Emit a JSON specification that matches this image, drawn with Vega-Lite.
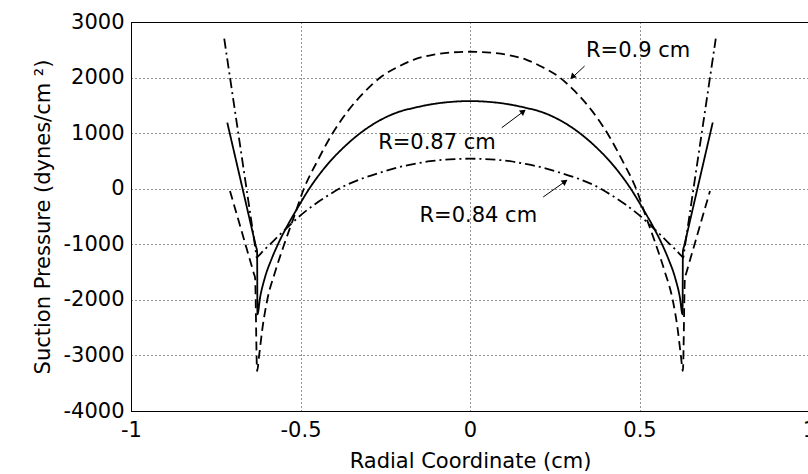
{
  "$schema": "https://vega.github.io/schema/vega-lite/v6.json",
  "width": 678,
  "height": 389,
  "autosize": {"type": "none"},
  "padding": {"left": 131, "top": 22, "right": 0, "bottom": 63},
  "background": "white",
  "config": {
    "font": "DejaVu Sans",
    "view": {"stroke": "black", "strokeWidth": 1},
    "axis": {
      "domainColor": "black",
      "labelColor": "black",
      "titleColor": "black",
      "labelFontSize": 21,
      "titleFontSize": 21,
      "titleFontWeight": "normal",
      "ticks": false,
      "grid": true,
      "gridColor": "black",
      "gridDash": [1, 3],
      "gridOpacity": 0.85,
      "gridWidth": 1,
      "labelOverlap": false,
      "labelBound": false,
      "labelFlush": false
    }
  },
  "datasets": {
    "curves": [
      {"s": "R=0.9 cm", "i": 1, "x": -0.708, "y": -40},
      {"s": "R=0.9 cm", "i": 2, "x": -0.671, "y": -820},
      {"s": "R=0.9 cm", "i": 3, "x": -0.637, "y": -1537},
      {"s": "R=0.9 cm", "i": 4, "x": -0.634, "y": -1600},
      {"s": "R=0.9 cm", "i": 5, "x": -0.628, "y": -3280},
      {"s": "R=0.9 cm", "i": 6, "x": -0.622, "y": -3000},
      {"s": "R=0.9 cm", "i": 7, "x": -0.612, "y": -2500},
      {"s": "R=0.9 cm", "i": 8, "x": -0.598, "y": -2000},
      {"s": "R=0.9 cm", "i": 9, "x": -0.575, "y": -1500},
      {"s": "R=0.9 cm", "i": 10, "x": -0.548, "y": -1000},
      {"s": "R=0.9 cm", "i": 11, "x": -0.52, "y": -520},
      {"s": "R=0.9 cm", "i": 12, "x": -0.49, "y": 0},
      {"s": "R=0.9 cm", "i": 13, "x": -0.45, "y": 500},
      {"s": "R=0.9 cm", "i": 14, "x": -0.41, "y": 950},
      {"s": "R=0.9 cm", "i": 15, "x": -0.36, "y": 1400},
      {"s": "R=0.9 cm", "i": 16, "x": -0.31, "y": 1750},
      {"s": "R=0.9 cm", "i": 17, "x": -0.265, "y": 2000},
      {"s": "R=0.9 cm", "i": 18, "x": -0.21, "y": 2200},
      {"s": "R=0.9 cm", "i": 19, "x": -0.167, "y": 2320},
      {"s": "R=0.9 cm", "i": 20, "x": -0.11, "y": 2410},
      {"s": "R=0.9 cm", "i": 21, "x": -0.06, "y": 2450},
      {"s": "R=0.9 cm", "i": 22, "x": 0, "y": 2465},
      {"s": "R=0.9 cm", "i": 23, "x": 0.06, "y": 2450},
      {"s": "R=0.9 cm", "i": 24, "x": 0.11, "y": 2410},
      {"s": "R=0.9 cm", "i": 25, "x": 0.167, "y": 2320},
      {"s": "R=0.9 cm", "i": 26, "x": 0.21, "y": 2200},
      {"s": "R=0.9 cm", "i": 27, "x": 0.265, "y": 2000},
      {"s": "R=0.9 cm", "i": 28, "x": 0.31, "y": 1750},
      {"s": "R=0.9 cm", "i": 29, "x": 0.36, "y": 1400},
      {"s": "R=0.9 cm", "i": 30, "x": 0.41, "y": 950},
      {"s": "R=0.9 cm", "i": 31, "x": 0.45, "y": 500},
      {"s": "R=0.9 cm", "i": 32, "x": 0.49, "y": 0},
      {"s": "R=0.9 cm", "i": 33, "x": 0.52, "y": -520},
      {"s": "R=0.9 cm", "i": 34, "x": 0.548, "y": -1000},
      {"s": "R=0.9 cm", "i": 35, "x": 0.575, "y": -1500},
      {"s": "R=0.9 cm", "i": 36, "x": 0.598, "y": -2000},
      {"s": "R=0.9 cm", "i": 37, "x": 0.612, "y": -2500},
      {"s": "R=0.9 cm", "i": 38, "x": 0.622, "y": -3000},
      {"s": "R=0.9 cm", "i": 39, "x": 0.628, "y": -3280},
      {"s": "R=0.9 cm", "i": 40, "x": 0.634, "y": -1600},
      {"s": "R=0.9 cm", "i": 41, "x": 0.637, "y": -1537},
      {"s": "R=0.9 cm", "i": 42, "x": 0.671, "y": -820},
      {"s": "R=0.9 cm", "i": 43, "x": 0.708, "y": -40},

      {"s": "R=0.87 cm", "i": 1, "x": -0.716, "y": 1190},
      {"s": "R=0.87 cm", "i": 2, "x": -0.672, "y": 30},
      {"s": "R=0.87 cm", "i": 3, "x": -0.632, "y": -1025},
      {"s": "R=0.87 cm", "i": 4, "x": -0.628, "y": -1130},
      {"s": "R=0.87 cm", "i": 5, "x": -0.627, "y": -2260},
      {"s": "R=0.87 cm", "i": 6, "x": -0.619, "y": -1950},
      {"s": "R=0.87 cm", "i": 7, "x": -0.605, "y": -1600},
      {"s": "R=0.87 cm", "i": 8, "x": -0.585, "y": -1260},
      {"s": "R=0.87 cm", "i": 9, "x": -0.565, "y": -980},
      {"s": "R=0.87 cm", "i": 10, "x": -0.54, "y": -680},
      {"s": "R=0.87 cm", "i": 11, "x": -0.51, "y": -360},
      {"s": "R=0.87 cm", "i": 12, "x": -0.472, "y": 20},
      {"s": "R=0.87 cm", "i": 13, "x": -0.44, "y": 290},
      {"s": "R=0.87 cm", "i": 14, "x": -0.413, "y": 490},
      {"s": "R=0.87 cm", "i": 15, "x": -0.38, "y": 700},
      {"s": "R=0.87 cm", "i": 16, "x": -0.315, "y": 1040},
      {"s": "R=0.87 cm", "i": 17, "x": -0.26, "y": 1250},
      {"s": "R=0.87 cm", "i": 18, "x": -0.216, "y": 1370},
      {"s": "R=0.87 cm", "i": 19, "x": -0.16, "y": 1462},
      {"s": "R=0.87 cm", "i": 20, "x": -0.118, "y": 1515},
      {"s": "R=0.87 cm", "i": 21, "x": -0.06, "y": 1560},
      {"s": "R=0.87 cm", "i": 22, "x": 0, "y": 1577},
      {"s": "R=0.87 cm", "i": 23, "x": 0.06, "y": 1560},
      {"s": "R=0.87 cm", "i": 24, "x": 0.118, "y": 1515},
      {"s": "R=0.87 cm", "i": 25, "x": 0.16, "y": 1462},
      {"s": "R=0.87 cm", "i": 26, "x": 0.216, "y": 1370},
      {"s": "R=0.87 cm", "i": 27, "x": 0.26, "y": 1250},
      {"s": "R=0.87 cm", "i": 28, "x": 0.315, "y": 1040},
      {"s": "R=0.87 cm", "i": 29, "x": 0.38, "y": 700},
      {"s": "R=0.87 cm", "i": 30, "x": 0.413, "y": 490},
      {"s": "R=0.87 cm", "i": 31, "x": 0.44, "y": 290},
      {"s": "R=0.87 cm", "i": 32, "x": 0.472, "y": 20},
      {"s": "R=0.87 cm", "i": 33, "x": 0.51, "y": -360},
      {"s": "R=0.87 cm", "i": 34, "x": 0.54, "y": -680},
      {"s": "R=0.87 cm", "i": 35, "x": 0.565, "y": -980},
      {"s": "R=0.87 cm", "i": 36, "x": 0.585, "y": -1260},
      {"s": "R=0.87 cm", "i": 37, "x": 0.605, "y": -1600},
      {"s": "R=0.87 cm", "i": 38, "x": 0.619, "y": -1950},
      {"s": "R=0.87 cm", "i": 39, "x": 0.627, "y": -2260},
      {"s": "R=0.87 cm", "i": 40, "x": 0.628, "y": -1130},
      {"s": "R=0.87 cm", "i": 41, "x": 0.632, "y": -1025},
      {"s": "R=0.87 cm", "i": 42, "x": 0.672, "y": 30},
      {"s": "R=0.87 cm", "i": 43, "x": 0.716, "y": 1190},

      {"s": "R=0.84 cm", "i": 1, "x": -0.725, "y": 2700},
      {"s": "R=0.84 cm", "i": 2, "x": -0.677, "y": 730},
      {"s": "R=0.84 cm", "i": 3, "x": -0.633, "y": -1076},
      {"s": "R=0.84 cm", "i": 4, "x": -0.629, "y": -1240},
      {"s": "R=0.84 cm", "i": 5, "x": -0.626, "y": -1222},
      {"s": "R=0.84 cm", "i": 6, "x": -0.61, "y": -1120},
      {"s": "R=0.84 cm", "i": 7, "x": -0.59, "y": -1000},
      {"s": "R=0.84 cm", "i": 8, "x": -0.565, "y": -850},
      {"s": "R=0.84 cm", "i": 9, "x": -0.536, "y": -680},
      {"s": "R=0.84 cm", "i": 10, "x": -0.5, "y": -480},
      {"s": "R=0.84 cm", "i": 11, "x": -0.46, "y": -290},
      {"s": "R=0.84 cm", "i": 12, "x": -0.413, "y": -100},
      {"s": "R=0.84 cm", "i": 13, "x": -0.38, "y": 20},
      {"s": "R=0.84 cm", "i": 14, "x": -0.315, "y": 190},
      {"s": "R=0.84 cm", "i": 15, "x": -0.26, "y": 300},
      {"s": "R=0.84 cm", "i": 16, "x": -0.216, "y": 378},
      {"s": "R=0.84 cm", "i": 17, "x": -0.16, "y": 450},
      {"s": "R=0.84 cm", "i": 18, "x": -0.118, "y": 495},
      {"s": "R=0.84 cm", "i": 19, "x": -0.06, "y": 528},
      {"s": "R=0.84 cm", "i": 20, "x": 0, "y": 540},
      {"s": "R=0.84 cm", "i": 21, "x": 0.06, "y": 528},
      {"s": "R=0.84 cm", "i": 22, "x": 0.118, "y": 495},
      {"s": "R=0.84 cm", "i": 23, "x": 0.16, "y": 450},
      {"s": "R=0.84 cm", "i": 24, "x": 0.216, "y": 378},
      {"s": "R=0.84 cm", "i": 25, "x": 0.26, "y": 300},
      {"s": "R=0.84 cm", "i": 26, "x": 0.315, "y": 190},
      {"s": "R=0.84 cm", "i": 27, "x": 0.38, "y": 20},
      {"s": "R=0.84 cm", "i": 28, "x": 0.413, "y": -100},
      {"s": "R=0.84 cm", "i": 29, "x": 0.46, "y": -290},
      {"s": "R=0.84 cm", "i": 30, "x": 0.5, "y": -480},
      {"s": "R=0.84 cm", "i": 31, "x": 0.536, "y": -680},
      {"s": "R=0.84 cm", "i": 32, "x": 0.565, "y": -850},
      {"s": "R=0.84 cm", "i": 33, "x": 0.59, "y": -1000},
      {"s": "R=0.84 cm", "i": 34, "x": 0.61, "y": -1120},
      {"s": "R=0.84 cm", "i": 35, "x": 0.626, "y": -1222},
      {"s": "R=0.84 cm", "i": 36, "x": 0.629, "y": -1240},
      {"s": "R=0.84 cm", "i": 37, "x": 0.633, "y": -1076},
      {"s": "R=0.84 cm", "i": 38, "x": 0.677, "y": 730},
      {"s": "R=0.84 cm", "i": 39, "x": 0.725, "y": 2700}
    ],
    "labels": [
      {"s": "R=0.9 cm", "x": 0.342, "y": 2374},
      {"s": "R=0.87 cm", "x": -0.271, "y": 709},
      {"s": "R=0.84 cm", "x": -0.149, "y": -594}
    ],
    "arrows": [
      {"s": "R=0.9 cm", "x": 0.338, "y": 2207, "x2": 0.300, "y2": 1990},
      {"s": "R=0.87 cm", "x": 0.0935, "y": 1097, "x2": 0.160, "y2": 1400},
      {"s": "R=0.84 cm", "x": 0.216, "y": -149, "x2": 0.283, "y2": 140}
    ],
    "heads": [
      {"s": "R=0.9 cm", "x": 0.304, "y": 2024},
      {"s": "R=0.87 cm", "x": 0.155, "y": 1378},
      {"s": "R=0.84 cm", "x": 0.278, "y": 120}
    ]
  },
  "encoding": {
    "x": {
      "field": "x",
      "type": "quantitative",
      "title": "Radial Coordinate (cm)",
      "scale": {"domain": [-1, 1], "nice": false, "zero": false},
      "axis": {
        "values": [-1, -0.5, 0, 0.5, 1],
        "labelExpr": "'' + datum.value",
        "labelPadding": 8,
        "titlePadding": 10
      }
    },
    "y": {
      "field": "y",
      "type": "quantitative",
      "title": "Suction Pressure (dynes/cm ²)",
      "scale": {"domain": [-4000, 3000], "nice": false, "zero": false},
      "axis": {
        "values": [-4000, -3000, -2000, -1000, 0, 1000, 2000, 3000],
        "labelExpr": "'' + datum.value",
        "labelPadding": 7,
        "titlePadding": 9
      }
    }
  },
  "layer": [
    {
      "data": {"name": "curves"},
      "mark": {"type": "line", "color": "black", "strokeWidth": 1.8, "clip": true, "interpolate": "monotone"},
      "encoding": {
        "strokeDash": {
          "field": "s",
          "type": "nominal",
          "legend": null,
          "scale": {
            "domain": ["R=0.9 cm", "R=0.87 cm", "R=0.84 cm"],
            "range": [[9, 5], [1, 0], [10, 4, 2, 4]]
          }
        },
        "order": {"field": "i", "type": "quantitative"}
      }
    },
    {
      "data": {"name": "arrows"},
      "mark": {"type": "rule", "color": "black", "strokeWidth": 1},
      "encoding": {
        "x2": {"field": "x2"},
        "y2": {"field": "y2"}
      }
    },
    {
      "data": {"name": "heads"},
      "transform": [{"filter": "datum.s == 'R=0.9 cm'"}],
      "mark": {"type": "point", "shape": "triangle", "filled": true, "color": "black", "size": 45, "angle": 225, "opacity": 1}
    },
    {
      "data": {"name": "heads"},
      "transform": [{"filter": "datum.s == 'R=0.87 cm'"}],
      "mark": {"type": "point", "shape": "triangle", "filled": true, "color": "black", "size": 45, "angle": 53, "opacity": 1}
    },
    {
      "data": {"name": "heads"},
      "transform": [{"filter": "datum.s == 'R=0.84 cm'"}],
      "mark": {"type": "point", "shape": "triangle", "filled": true, "color": "black", "size": 45, "angle": 55, "opacity": 1}
    },
    {
      "data": {"name": "labels"},
      "mark": {"type": "text", "align": "left", "baseline": "alphabetic", "fontSize": 21, "color": "black", "font": "DejaVu Sans"},
      "encoding": {
        "text": {"field": "s", "type": "nominal"}
      }
    }
  ]
}
